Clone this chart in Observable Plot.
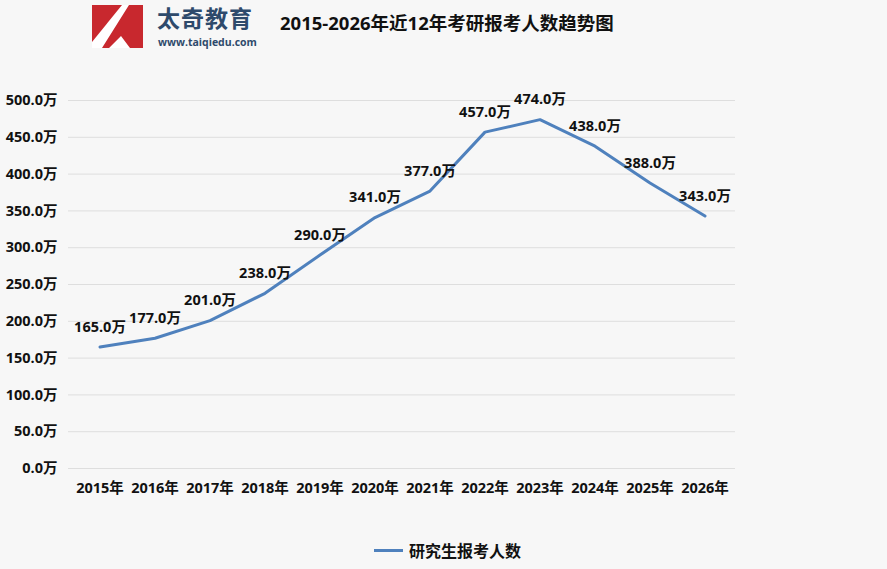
<!DOCTYPE html>
<html><head><meta charset="utf-8">
<script src="https://cdn.jsdelivr.net/npm/d3@7"></script>
<script src="https://cdn.jsdelivr.net/npm/@observablehq/plot@0.6"></script>
<style>
html,body{margin:0;padding:0;background:#f7f7f7;}
#wrap{position:relative;width:887px;height:569px;overflow:hidden;background:#f7f7f7;font-family:"Open Sans","Noto Sans CJK SC",sans-serif;}
#chart{position:absolute;left:0;top:0;}
#title{position:absolute;left:280px;top:10px;font-size:18.5px;font-weight:bold;color:#111;font-family:"Open Sans","Noto Sans CJK SC",sans-serif;white-space:nowrap;line-height:26px;}
#logo{position:absolute;left:92px;top:5px;}
#brand{position:absolute;left:157px;top:5px;font-size:23px;line-height:25px;height:25px;font-weight:bold;color:#2e4a6b;font-family:"Noto Sans CJK SC",sans-serif;letter-spacing:1px;white-space:nowrap;}
#url{position:absolute;left:158px;top:36px;font-size:10.5px;line-height:12px;font-weight:bold;color:#2e4a6b;font-family:"Open Sans",sans-serif;white-space:nowrap;}
#legend{position:absolute;left:374px;top:538px;display:flex;align-items:center;font-size:16px;font-weight:bold;color:#111;font-family:"Noto Sans CJK SC",sans-serif;}
#legend span.sw{display:inline-block;width:29px;height:3px;background:#4f81bd;margin-right:6px;}
</style></head>
<body><div id="wrap">
<div id="chart"></div>
<svg id="logo" width="51" height="43" viewBox="0 0 51 43">
<rect x="0" y="0" width="51" height="43" fill="#fff"/>
<polygon points="0,0 30,0 0,37" fill="#c8282e"/>
<polygon points="37,0 51,0 51,43 38,43 29,31 17,43 10,43" fill="#c8282e"/>
</svg>
<div id="brand">太奇教育</div>
<div id="url">www.taiqiedu.com</div>
<div id="title">2015-2026年近12年考研报考人数趋势图</div>
<div id="legend"><span class="sw"></span>研究生报考人数</div>
</div>
<script>
const years = ["2015年","2016年","2017年","2018年","2019年","2020年","2021年","2022年","2023年","2024年","2025年","2026年"];
const values = [165,177,201,238,290,341,377,457,474,438,388,343];
const yTicks = [0,50,100,150,200,250,300,350,400,450,500];
const unit = "万";

const data = years.map((y,i)=>({year:y, value:values[i]}));

const chart = Plot.plot({
  width: 887,
  height: 520,
  marginTop: 100,
  marginBottom: 52,
  marginLeft: 68,
  marginRight: 152,
  style: {background:"transparent", fontFamily:"'Open Sans','Noto Sans CJK SC',sans-serif", fontSize:"14px", fontWeight:"bold", color:"#111"},
  x: {type:"band", domain: years, padding: 0, label: null},
  y: {domain:[0,500], label: null},
  marks: [
    Plot.ruleY(yTicks, {stroke:"#dedede", strokeWidth:1}),
    Plot.axisY({ticks: yTicks, tickSize:0, tickPadding:11, tickFormat: d => d.toFixed(1)+unit, fontWeight:"bold", fontSize:14.5, label:null}),
    Plot.axisX({tickSize:0, tickPadding:14, fontWeight:"bold", fontSize:14.5, label:null}),
    Plot.line(data, {x:"year", y:"value", stroke:"#4f81bd", strokeWidth:3, curve:"linear"}),
    Plot.text(data, {x:"year", y:"value", text: d => d.value.toFixed(1)+unit, dy:-20, fontWeight:"bold", fontSize:14.5, fill:"#111"})
  ]
});
document.getElementById("chart").appendChild(chart);
</script>
</body></html>
